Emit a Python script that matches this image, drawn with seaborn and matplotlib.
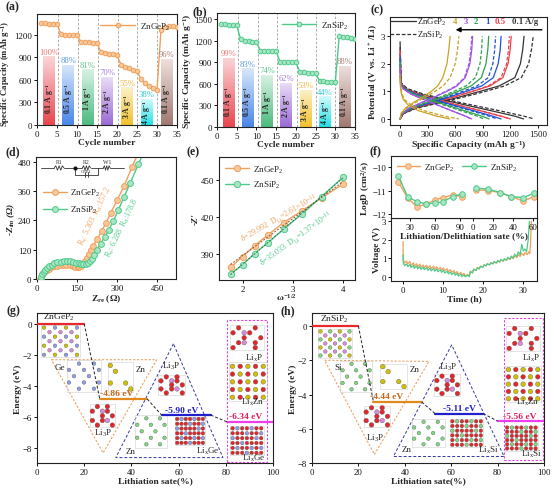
import numpy as np
import seaborn as sns
import matplotlib.pyplot as plt
from matplotlib.colors import LinearSegmentedColormap
from matplotlib.patches import Rectangle, Polygon

# ---------------- (a)/(b) rate capability ----------------
cycles = list(range(1, 36))
gep_rate_cap = [1352, 1350, 1348, 1347, 1346, 1205, 1200, 1198, 1196, 1194,
                1100, 1098, 1097, 1096, 1095, 965, 955, 948, 940, 925,
                803, 775, 755, 735, 715, 610, 560, 520, 490, 465,
                1262, 1302, 1310, 1309, 1306]
sip_rate_cap = [1440, 1432, 1425, 1420, 1416, 1222, 1205, 1196, 1190, 1185,
                1062, 1058, 1056, 1055, 1054, 909, 905, 903, 901, 900,
                770, 762, 757, 754, 752, 646, 638, 632, 627, 623,
                1268, 1262, 1255, 1245, 1233]
bar_x = [3.0, 7.8, 12.7, 17.6, 22.5, 27.4, 32.4]
bar_labels = ['0.1 A g$^{-1}$', '0.5 A g$^{-1}$', '1 A g$^{-1}$', '2 A g$^{-1}$',
              '3 A g$^{-1}$', '4 A g$^{-1}$', '0.1 A g$^{-1}$']
gep_bar = [913, 803, 740, 640, 503, 345, 877]
gep_pct = ['100%', '88%', '81%', '70%', '55%', '38%', '96%']
sip_bar = [969, 817, 725, 614, 521, 429, 855]
sip_pct = ['99%', '83%', '74%', '62%', '53%', '44%', '88%']
rate_dividers = [5.3, 10.3, 15.2, 20.2, 25.1, 30.0]

# ---------------- (c) charge / discharge ----------------
rate_names = ['0.1 A/g', '0.5', '1', '2', '3', '4']
chg_v = [0.0, 0.2, 0.4, 0.6, 0.8, 1.0, 1.2, 1.5, 2.0, 2.5, 3.0]
gep_chg = [[0, 40, 170, 420, 650, 870, 1080, 1250, 1310, 1335, 1350],
           [0, 35, 150, 380, 590, 790, 980, 1120, 1175, 1198, 1210],
           [0, 30, 140, 350, 540, 720, 890, 1015, 1068, 1090, 1100],
           [0, 25, 120, 300, 470, 630, 775, 885, 935, 955, 965],
           [0, 20, 100, 240, 380, 510, 620, 710, 760, 780, 790],
           [0, 10, 60, 150, 250, 340, 410, 465, 510, 530, 545]]
sip_chg = [[0, 40, 190, 450, 700, 930, 1140, 1320, 1400, 1430, 1450],
           [0, 35, 150, 370, 580, 780, 960, 1100, 1160, 1180, 1190],
           [0, 30, 130, 330, 510, 680, 840, 960, 1010, 1030, 1040],
           [0, 25, 110, 280, 440, 585, 720, 820, 870, 888, 895],
           [0, 20, 100, 240, 370, 495, 610, 700, 750, 770, 780],
           [0, 15, 70, 170, 280, 380, 470, 545, 600, 625, 640]]
dis_v = [1.3, 1.1, 0.9, 0.7, 0.5, 0.3, 0.1, 0.0]
gep_dis_v0 = [2.8, 2.5, 2.3, 2.1, 1.9, 1.6]
gep_dis = [[10, 60, 220, 460, 720, 990, 1250, 1345],
           [8, 50, 190, 400, 630, 870, 1100, 1200],
           [6, 45, 170, 370, 580, 800, 1010, 1100],
           [5, 40, 150, 320, 510, 700, 890, 970],
           [4, 30, 120, 260, 410, 560, 715, 780],
           [2, 6, 15, 35, 90, 200, 400, 540]]
sip_dis_v0 = [2.6, 2.4, 2.2, 2.0, 1.8, 1.5]
sip_dis = [[15, 80, 260, 510, 790, 1080, 1350, 1460],
           [10, 55, 200, 410, 640, 880, 1100, 1200],
           [8, 45, 170, 360, 560, 770, 970, 1060],
           [6, 40, 140, 300, 480, 660, 840, 910],
           [5, 30, 120, 260, 410, 560, 710, 770],
           [2, 8, 20, 50, 120, 260, 480, 640]]

# ---------------- (d) Nyquist ----------------
gep_zre = [10, 13, 17, 22, 28, 35, 43, 52, 62, 73, 85, 97, 109, 121, 132, 142, 151, 158,
           164, 170, 177, 185, 193, 201, 209, 224, 241, 257, 275, 300, 325, 354]
gep_zim = [0, 8, 16, 24, 31, 37, 43, 48, 52, 55, 57, 58, 57, 56, 53, 50, 48, 49,
           53, 62, 74, 88, 102, 118, 135, 162, 196, 229, 270, 325, 380, 457]
gep_line_end = (372, 500)
sip_zre = [12, 15, 19, 24, 30, 37, 45, 54, 64, 75, 87, 99, 111, 123, 135, 146, 156, 165,
           173, 181, 189, 197, 205, 213, 222, 237, 252, 268, 285, 303, 325, 349, 379]
sip_zim = [0, 10, 20, 29, 38, 46, 53, 59, 64, 68, 71, 73, 73, 72, 70, 67, 64, 62,
           61, 62, 66, 73, 83, 100, 119, 144, 171, 202, 237, 281, 336, 395, 470]
sip_line_end = (391, 500)

# ---------------- (e) Z' vs w^-1/2 ----------------
omega = [1.75, 1.99, 2.23, 2.5, 2.81, 3.17, 3.57, 4.0]
gep_zp = [379.2, 388.0, 396.8, 405.7, 415.6, 425.0, 435.7, 447.0]
sip_zp = [373.8, 381.4, 390.5, 399.4, 410.2, 422.4, 436.6, 452.7]

# ---------------- (f) GITT ----------------
lith_x = [16, 27, 38, 49, 60, 70, 81, 92]
gep_lith_logd = [-10.64, -11.30, -11.69, -11.59, -11.40, -11.30, -11.19, -11.26]
sip_lith_logd = [-10.37, -11.26, -11.47, -11.57, -11.54, -11.47, -11.26, -11.14]
delith_x = [3, 15, 27, 38, 50, 61]
gep_delith_logd = [-10.97, -11.00, -11.09, -11.26, -11.44, -11.26]
sip_delith_logd = [-10.90, -10.94, -11.09, -11.26, -11.30, -11.11]
gep_t = [0.0, 0.05, 0.4, 0.9, 1.2, 1.7, 2.0, 2.6, 2.8, 3.4, 3.7, 4.2, 4.5, 5.0, 5.3, 5.9,
         6.2, 6.7, 7.0, 7.6, 7.9, 8.4, 8.7, 9.3, 9.6, 10.1, 10.4, 11.0, 11.3, 11.8, 12.1,
         12.7, 13.0, 13.5, 13.8, 14.4, 14.7, 15.2, 15.5, 16.1, 16.5, 16.8, 17.3, 17.6,
         18.2, 18.5, 19.0, 19.3, 19.9, 20.2, 20.7, 21.0, 21.6, 21.9, 22.4, 22.7, 23.3,
         23.6, 24.1, 24.4, 25.0, 25.3, 25.8, 26.1, 26.7, 27.0, 27.5, 27.8, 28.4, 28.7,
         29.2, 29.5, 30.1, 30.4, 31.0, 31.3, 31.6, 31.8, 32.0]
gep_volt = [1.9, 0.95, 0.75, 0.85, 0.7, 0.82, 0.62, 0.75, 0.58, 0.7, 0.55, 0.68, 0.52, 0.64,
            0.5, 0.62, 0.47, 0.6, 0.44, 0.57, 0.42, 0.54, 0.4, 0.5, 0.36, 0.47, 0.33, 0.43,
            0.28, 0.38, 0.24, 0.33, 0.19, 0.28, 0.14, 0.23, 0.1, 0.18, 0.05, 0.12, 0.03,
            0.3, 0.22, 0.42, 0.35, 0.5, 0.44, 0.58, 0.52, 0.65, 0.6, 0.7, 0.65, 0.75, 0.7,
            0.8, 0.74, 0.85, 0.79, 0.9, 0.84, 0.95, 0.89, 1.0, 0.94, 1.05, 0.98, 1.12, 1.04,
            1.2, 1.1, 1.28, 1.15, 1.3, 1.2, 1.35, 1.25, 1.9, 3.0]
sip_t = [0.0, 0.05, 0.4, 0.9, 1.2, 1.7, 2.0, 2.6, 2.8, 3.4, 3.7, 4.2, 4.5, 5.0, 5.3, 5.9,
         6.2, 6.7, 7.0, 7.6, 7.9, 8.4, 8.7, 9.3, 9.6, 10.1, 10.4, 11.0, 11.3, 11.8, 12.1,
         12.7, 13.0, 13.5, 13.8, 14.4, 14.7, 15.2, 15.5, 16.1, 16.5, 16.8, 17.3, 17.6,
         18.2, 18.5, 19.0, 19.3, 19.9, 20.2, 20.7, 21.0, 21.6, 21.9, 22.4, 22.7, 23.3,
         23.6, 24.1, 24.4, 25.0, 25.3, 25.8, 26.1, 26.7, 27.0, 27.5, 27.8, 28.4, 28.7,
         29.2, 29.6, 30.0, 30.4, 30.8, 31.2, 31.5]
sip_volt = [1.2, 0.75, 0.6, 0.7, 0.55, 0.66, 0.5, 0.62, 0.46, 0.58, 0.43, 0.55, 0.4, 0.52,
            0.38, 0.5, 0.35, 0.47, 0.32, 0.44, 0.3, 0.42, 0.27, 0.38, 0.24, 0.35, 0.2, 0.3,
            0.16, 0.26, 0.12, 0.22, 0.08, 0.18, 0.04, 0.14, 0.0, 0.1, 0.0, 0.08, 0.0,
            0.28, 0.2, 0.4, 0.33, 0.48, 0.42, 0.56, 0.5, 0.64, 0.58, 0.7, 0.64, 0.76, 0.7,
            0.82, 0.75, 0.88, 0.8, 0.93, 0.86, 0.98, 0.9, 1.05, 0.96, 1.12, 1.02, 1.22, 1.1,
            1.35, 1.2, 1.75, 1.4, 1.5, 1.35, 2.0, 3.0]

# ---------------- (g)/(h) energy diagrams ----------------
g_energy = [0, -4.86, -5.90, -6.34]
g_span = [(0, 20), (26.6, 46.7), (52.8, 73.6), (80.5, 100)]
h_energy = [0, -4.44, -5.11, -5.56]
h_span = [(0, 20), (26.5, 47.3), (53, 73.8), (80, 100)]
g_orange_tri = [(6.1, -2.32), (50.7, -2.32), (28.0, -8.35)]
g_blue_tri = [(57.8, -1.29), (33.4, -8.65), (78.8, -8.65)]
g_box = [(80.5, 0.26), (97.5, -8.92)]
h_orange_tri = [(5.4, -2.0), (50.4, -2.07), (26.9, -7.5)]
h_blue_tri = [(60.2, -1.1), (35.1, -7.62), (82.8, -7.62)]
h_box = [(82.8, 0.45), (99.7, -7.85)]
g_title = ('ZnGeP$_2$', 9.5, 0.1)
h_title = ('ZnSiP$_2$', 9.5, 0.1)
g_labels = [('Ge', 9.8, -2.8), ('Zn', 43.8, -2.9), ('Li$_3$P', 28, -7.0),
            ('Li$_3$P', 57, -2.7), ('Zn', 39.5, -8.2), ('Li$_x$Ge', 72.5, -8.2),
            ('Li$_x$P', 91.8, -2.15), ('Li$_x$Zn', 91.4, -4.99), ('Li$_x$Ge', 91.8, -8.65)]
h_labels = [('Si', 11.2, -2.42), ('Zn', 44.4, -2.5), ('Li$_3$P', 27.2, -6.5),
            ('Li$_3$P', 58.7, -2.33), ('Zn', 40.8, -7.17), ('Li$_x$Si', 75.9, -7.2),
            ('Li$_x$P', 94.5, -1.84), ('Li$_x$Zn', 92.8, -4.4), ('Li$_x$Si', 94.5, -7.46)]
g_energy_text_x = [None, 33.7, 61.3, 88.2]
h_energy_text_x = [None, 32.2, 63.6, 89.5]
g_structs = [('ZnGeP2', 1.8, 18.1, -2.15, -0.1), ('Ge', 12.5, 27.3, -4.4, -2.37),
             ('Zn', 30, 40.8, -4.4, -2.5), ('Li3P', 22.4, 33, -6.7, -5.2),
             ('Li3P', 51.4, 62.7, -4.6, -3.3), ('Si', 41.5, 55, -8.0, -5.9),
             ('LixGe', 58.5, 71.2, -7.85, -6.0), ('LixP', 81.9, 96, -1.7, -0.1),
             ('LixZn', 81.2, 97.5, -5.0, -2.5), ('LixGe', 81.9, 96, -8.5, -6.6)]
h_structs = [('ZnSiP2', 2.6, 17.2, -1.84, -0.2), ('Si', 12.2, 25.8, -3.88, -2.03),
             ('Zn', 29.4, 40.8, -3.68, -2.23), ('Li3P', 22.2, 33.7, -5.9, -4.65),
             ('Li3P', 52.7, 63.8, -4.07, -2.8), ('Si', 43, 57.3, -7.07, -5.43),
             ('LixSi', 59.5, 73.8, -7.07, -5.43), ('LixP', 83.8, 98.1, -1.45, 0.0),
             ('LixZn', 83.1, 98.9, -4.46, -2.33), ('LixSi', 83.1, 97.4, -7.27, -5.81)]
motifs = {
    'ZnGeP2': ["Y.B.Y.B", ".P.P.P.", "B.Y.B.Y", ".P.P.P.", "Y.B.Y.B", ".P.P.P.", "B.Y.B.Y"],
    'ZnSiP2': ["Y.G.Y.G", ".P.P.P.", "G.Y.G.Y", ".P.P.P.", "Y.G.Y.G", ".P.P.P.", "G.Y.G.Y"],
    'Ge': ["..B..B.", "B..B..B", ".B..B..", "B..B..B", "..B..B."],
    'Si': ["..G..G.", "G..G..G", ".G..G..", "G..G..G", "..G..G."],
    'Zn': ["Y....", ".Y...", ".....", "Y..Y.", "....Y"],
    'Li3P': [".R.R.", "R.PR.", "..R.R", "R.RP.", ".R..R"],
    'LixGe': ["RBRRBRR", "RRRBRRB", "BRRRRBR", "RRBRRRR", "RBRRBRB", "RRRBRRR"],
    'LixSi': ["RGRRGRR", "RRRGRRG", "GRRRRGR", "RRGRRRR", "RGRRGRG", "RRRGRRR"],
    'LixP': [".R..R.", "R.PR..", "..R..R", ".RP.R.", "R...R."],
    'LixZn': ["YRYRY", "RYRYR", "YRYRY", "RYRYR", "YRYRY"],
}
atom_colors = {'Y': '#D2C000', 'B': '#8E9CEB', 'P': '#D98AD9', 'R': '#E3262A', 'G': '#7FD67F'}

# ---------------- colours / sizes ----------------
orange, orange_fill = '#F0A05A', '#F7C89C'
green, green_fill = '#4FC98A', '#A8E6C4'
bar_dark = ['#E8474F', '#4A86E8', '#4DBB7F', '#9B6BD6', '#F2C12E', '#22E0E8', '#A07A72']
bar_light = ['#FBD6D8', '#D8E7FB', '#D7F2E3', '#EADFF7', '#FCF1CA', '#D2FAFB', '#EEDFDC']
pct_colors = ['#E87A7A', '#5B9BE6', '#5CC48E', '#A77FD9', '#EDB93A', '#2CCBD6', '#A97F78']
rate_colors = ['#333333', '#E8424A', '#2050D8', '#2DA04E', '#A055E0', '#C9A227']
TICK, LAB, LEG = 6.3, 6.8, 6.6

sns.set_theme(style='ticks')
plt.rcParams['font.family'] = ['Liberation Serif', 'DejaVu Serif']
plt.rcParams['mathtext.default'] = 'regular'
plt.rcParams['axes.linewidth'] = 0.8

W, H = 554, 489
fig = plt.figure(figsize=(W / 100, H / 100), dpi=100)


def px_axes(left, top, right, bottom):
    return fig.add_axes([left / W, 1 - bottom / H, (right - left) / W, (bottom - top) / H])


def style_ax(ax):
    ax.tick_params(direction='out', length=2.2, width=0.7, labelsize=TICK, pad=1.2, colors='#111111')
    for s in ax.spines.values():
        s.set_linewidth(0.8)
        s.set_color('#222222')


def labels(ax, xl, yl):
    ax.set_xlabel(xl, fontsize=LAB, fontweight='bold', labelpad=0.5)
    ax.set_ylabel(yl, fontsize=LAB, fontweight='bold', labelpad=0.5)


def rate_panel(ax, cap, bars_h, pcts, color, fill, name, ylim, yticks):
    bars = ax.bar(bar_x, bars_h, width=3.0, color='none', edgecolor='none', zorder=1)
    grad = np.linspace(0, 1, 64).reshape(-1, 1)
    for bar, d, l in zip(bars, bar_dark, bar_light):
        x0, w, h = bar.get_x(), bar.get_width(), bar.get_height()
        cmap = LinearSegmentedColormap.from_list('g', [d, l])
        im = ax.imshow(grad, extent=[x0, x0 + w, 0, h], origin='lower', cmap=cmap,
                       aspect='auto', zorder=1)
        im.set_clip_path(bar)
    for x in rate_dividers:
        ax.axvline(x, color='#A0A0A0', ls=(0, (3, 2)), lw=0.6, zorder=0)
    for x, h, p, c in zip(bar_x, bars_h, pcts, pct_colors):
        ax.text(x, h + 8, p, color=c, ha='center', va='bottom', fontsize=6.2, zorder=4)
    for x, h, t in zip(bar_x, bars_h, bar_labels):
        ax.text(x, min(h * 0.5, 360), t, rotation=90, ha='center', va='center',
                fontsize=5.6, fontweight='bold', zorder=4)
    sns.lineplot(x=cycles, y=cap, ax=ax, color=color, lw=1.0, marker='o', markersize=3.3,
                 markerfacecolor=fill, markeredgecolor=color, markeredgewidth=0.7,
                 label=name, sort=False, estimator=None, zorder=3)
    ax.legend(loc='upper right', frameon=False, handlelength=3.8, fontsize=LEG,
              borderaxespad=0.3, handletextpad=0.5)
    ax.set_xlim(0, 35)
    ax.set_ylim(*ylim)
    ax.set_xticks(range(0, 36, 5))
    ax.set_yticks(yticks)
    style_ax(ax)
    labels(ax, 'Cycle number', 'Specific Capacity (mAh g$^{-1}$)')


# (a)
ax_a = px_axes(37, 15, 177, 126)
rate_panel(ax_a, gep_rate_cap, gep_bar, gep_pct, orange, orange_fill, 'ZnGeP$_2$',
           (0, 1475), [0, 300, 600, 900, 1200])
ax_a.yaxis.set_label_coords(-0.175, 0.47)
ax_a.yaxis.label.set_fontsize(6.3)
# (b)
ax_b = px_axes(217, 14, 355, 128)
rate_panel(ax_b, sip_rate_cap, sip_bar, sip_pct, green, green_fill, 'ZnSiP$_2$',
           (0, 1590), [0, 300, 600, 900, 1200, 1500])

# (c)
ax_c = px_axes(390, 18, 547, 126)
for i in range(6):
    c = rate_colors[i]
    sns.lineplot(x=[0] + gep_dis[i], y=[gep_dis_v0[i]] + dis_v, ax=ax_c, color=c, lw=0.9,
                 sort=False, estimator=None)
    sns.lineplot(x=gep_chg[i], y=chg_v, ax=ax_c, color=c, lw=0.9, sort=False, estimator=None)
    sns.lineplot(x=[0] + sip_dis[i], y=[sip_dis_v0[i]] + dis_v, ax=ax_c, color=c, lw=0.9,
                 ls=(0, (3, 1.5)), sort=False, estimator=None)
    sns.lineplot(x=sip_chg[i], y=chg_v, ax=ax_c, color=c, lw=0.9, ls=(0, (3, 1.5)),
                 sort=False, estimator=None)
ax_c.set_xlim(-110, 1600)
ax_c.set_ylim(-0.22, 3.7)
ax_c.set_xticks([0, 300, 600, 900, 1200, 1500])
ax_c.set_yticks([0, 1, 2, 3])
ax_c.plot([0.0, 0.165], [0.96, 0.96], transform=ax_c.transAxes, color='#333333', lw=0.9)
ax_c.plot([0.0, 0.165], [0.843, 0.843], transform=ax_c.transAxes, color='#333333', lw=0.9,
          ls=(0, (3, 1.5)))
ax_c.text(0.17, 0.96, 'ZnGeP$_2$', transform=ax_c.transAxes, fontsize=6.3, va='center')
ax_c.text(0.17, 0.843, 'ZnSiP$_2$', transform=ax_c.transAxes, fontsize=6.3, va='center')
for xf, name, c in zip([0.86, 0.705, 0.62, 0.55, 0.485, 0.415], rate_names, rate_colors):
    ax_c.text(xf, 0.96, name, transform=ax_c.transAxes, color=c, fontsize=6.3,
              fontweight='bold', ha='center', va='center')
ax_c.annotate('', xy=(0.40, 0.882), xytext=(0.985, 0.882), xycoords='axes fraction',
              arrowprops=dict(arrowstyle='-|>', color='black', lw=1.0, mutation_scale=7))
style_ax(ax_c)
labels(ax_c, 'Specific Capacity (mAh g$^{-1}$)', 'Potential (V vs. Li$^+$/Li)')

# (d)
ax_d = px_axes(36, 158, 176, 280)
for zre, zim, end, c, f, name in [(gep_zre, gep_zim, gep_line_end, orange, orange_fill, 'ZnGeP$_2$'),
                                   (sip_zre, sip_zim, sip_line_end, green, green_fill, 'ZnSiP$_2$')]:
    ax_d.plot([zre[-1], end[0]], [zim[-1], end[1]], color=c, lw=1.0, zorder=2)
    sns.lineplot(x=zre, y=zim, ax=ax_d, color=c, lw=1.0, marker='o', markersize=4.2,
                 markerfacecolor=f, markeredgecolor=c, markeredgewidth=0.7, label=name,
                 sort=False, estimator=None, zorder=3)
ax_d.legend(loc='upper left', bbox_to_anchor=(-0.01, 0.82), frameon=False, fontsize=LEG,
            handlelength=2.6, handletextpad=0.4, labelspacing=0.6)
ax_d.text(218, 262, 'R$_s$: 5.303  R$_{ct}$:157.2', color=orange, fontsize=5.8, rotation=64,
          ha='center', va='center', rotation_mode='anchor')
ax_d.text(318, 212, 'R$_s$: 6.288  R$_{ct}$:178.8', color=green, fontsize=5.8, rotation=64,
          ha='center', va='center', rotation_mode='anchor')
# equivalent circuit sketch
tr = ax_d.transAxes
yc = 0.91


def zigzag(x0, x1, y, amp=0.018, n=6):
    xs = np.linspace(x0, x1, n + 1)
    ys = [y + (amp if k % 2 else -amp) if 0 < k < n else y for k in range(n + 1)]
    return xs, ys


for x0, x1 in [(0.035, 0.13), (0.2, 0.33), (0.39, 0.48), (0.53, 0.63)]:
    ax_d.plot([x0, x1], [yc, yc], transform=tr, color='#333333', lw=0.6)
for x0, x1 in [(0.13, 0.2), (0.33, 0.39), (0.48, 0.53)]:
    zx, zy = zigzag(x0, x1, yc)
    ax_d.plot(zx, zy, transform=tr, color='#333333', lw=0.6)
ax_d.plot([0.28, 0.28, 0.44, 0.44], [yc, 0.855, 0.855, yc], transform=tr, color='#333333', lw=0.6)
ax_d.plot([0.35, 0.35], [0.835, 0.875], transform=tr, color='#333333', lw=0.6)
ax_d.plot([0.37, 0.37], [0.835, 0.875], transform=tr, color='#333333', lw=0.6)
ax_d.plot([0.28], [yc], 'o', transform=tr, color='#111111', ms=2)
for txt, xf, yf, fs in [('R1', 0.165, 0.965, 4.2), ('R2', 0.36, 0.965, 4.2),
                        ('W1', 0.505, 0.965, 4.2), ('CPE1', 0.36, 0.885, 3.3)]:
    ax_d.text(xf, yf, txt, transform=tr, fontsize=fs, ha='center', va='center', color='#333333')
ax_d.set_xlim(-5, 520)
ax_d.set_ylim(0, 500)
ax_d.set_xticks([0, 150, 300, 450])
ax_d.set_yticks([0, 120, 240, 360, 480])
style_ax(ax_d)
labels(ax_d, 'Z$_{re}$ (Ω)', '-Z$_{im}$ (Ω)')
ax_d.yaxis.label.set_style('italic')

# (e)
ax_e = px_axes(219, 158, 355, 281)
for zp, c, f, name, dark in [(gep_zp, orange, orange_fill, 'ZnGeP$_2$', '#8A5A30'),
                             (sip_zp, green, green_fill, 'ZnSiP$_2$', '#2A7A50')]:
    sns.lineplot(x=omega, y=zp, ax=ax_e, color=c, lw=1.0, marker='o', markersize=4.5,
                 markerfacecolor=f, markeredgecolor=c, markeredgewidth=0.7, label=name,
                 sort=False, estimator=None, zorder=3)
    k, b = np.polyfit(omega, zp, 1)
    xx = np.array([omega[0], omega[-1]])
    ax_e.plot(xx, k * xx + b, color=dark, lw=0.7, ls=(0, (2, 1.5)), zorder=4)
ax_e.legend(loc='upper left', frameon=False, fontsize=LEG, handlelength=2.6,
            handletextpad=0.4, borderaxespad=0.3)
ax_e.text(2.73, 419.6, 'δ=29.992  D$_{Li}$=2.61×10$^{-11}$', color=orange, fontsize=5.8,
          rotation=30, ha='center', va='center', rotation_mode='anchor')
ax_e.text(3.07, 402.9, 'δ=35.033  D$_{Li}$=1.37×10$^{-11}$', color=green, fontsize=5.8,
          rotation=36, ha='center', va='center', rotation_mode='anchor')
ax_e.set_xlim(1.52, 4.24)
ax_e.set_ylim(369, 469)
ax_e.set_xticks([2, 3, 4])
ax_e.set_yticks([390, 420, 450])
style_ax(ax_e)
labels(ax_e, 'ω$^{-1/2}$', "-Z'")
ax_e.xaxis.labelpad = -1
ax_e.yaxis.label.set_style('italic')

# (f) top: log D, lithiation and delithiation on one broken scale
deli_offset, deli_scale = 106, 1.2
ax_ft = px_axes(391, 157, 537, 219)
ax_fb = px_axes(391, 219, 537, 282)
ax_ft.set_zorder(3)
deli_pos = [deli_offset + deli_scale * d for d in delith_x]
for lx, dy, c, f, name in [(gep_lith_logd, gep_delith_logd, orange, orange_fill, 'ZnGeP$_2$'),
                           (sip_lith_logd, sip_delith_logd, green, green_fill, 'ZnSiP$_2$')]:
    sns.lineplot(x=lith_x, y=lx, ax=ax_ft, color=c, lw=1.0, marker='o', markersize=4,
                 markerfacecolor=f, markeredgecolor=c, markeredgewidth=0.7, label=name,
                 sort=False, estimator=None)
    sns.lineplot(x=deli_pos, y=dy, ax=ax_ft, color=c, lw=1.0, marker='o', markersize=4,
                 markerfacecolor=f, markeredgecolor=c, markeredgewidth=0.7,
                 sort=False, estimator=None)
ax_ft.legend(loc='upper left', ncol=2, frameon=False, fontsize=LEG, handlelength=2.6,
             handletextpad=0.4, columnspacing=0.8, borderaxespad=0.2)
ax_ft.set_xlim(7.2, 182.4)
ax_ft.set_ylim(-12.17, -9.53)
ax_ft.set_yticks([-12, -11, -10])
ax_ft.set_xticks([30, 60, 90] + [deli_offset + deli_scale * d for d in [0, 20, 40, 60]])
ax_ft.set_xticklabels(['30', '60', '90', '0', '20', '40', '60'])
style_ax(ax_ft)
labels(ax_ft, 'Lithiation/Delithiation sate (%)', 'LogD (cm$^2$/s)')
ax_ft.xaxis.labelpad = 0

sns.lineplot(x=gep_t, y=gep_volt, ax=ax_fb, color=orange, lw=0.9, sort=False, estimator=None)
sns.lineplot(x=sip_t, y=sip_volt, ax=ax_fb, color=green, lw=0.9, sort=False, estimator=None)
ax_fb.set_xlim(-3, 33.4)
ax_fb.set_ylim(-0.23, 3.18)
ax_fb.set_xticks([0, 10, 20, 30])
ax_fb.set_yticks([0, 1, 2, 3])
style_ax(ax_fb)
labels(ax_fb, 'Time (h)', 'Voltage (V)')


# (g)/(h)
def draw_structure(ax, motif, x0, x1, y0, y1):
    rows = motifs[motif]
    nr, nc = len(rows), len(rows[0])
    ax.add_patch(Rectangle((x0, y0), x1 - x0, y1 - y0, fill=False, ec='#CFCFCF', lw=0.4, zorder=2))
    xs, ys, cs = [], [], []
    for r, row in enumerate(rows):
        for cidx, ch in enumerate(row):
            if ch != '.':
                xs.append(x0 + (cidx + 0.5) / nc * (x1 - x0))
                ys.append(y1 - (r + 0.5) / nr * (y1 - y0))
                cs.append(atom_colors[ch])
    size = 11 if nr * nc <= 30 else 7
    ax.scatter(xs, ys, s=size, c=cs, edgecolors='#555555', linewidths=0.25, zorder=3)


def energy_panel(ax, energy, span, text_x, otri, btri, box, title, texts, structs, ylim):
    line_cols = ['#E8282B', '#E08A1E', '#1F1FD0', '#F03CF0']
    text_cols = [None, '#C8661A', '#1F1FD0', '#E0205A']
    ax.add_patch(Polygon(otri, closed=True, fill=False, ec='#EBA468', lw=0.8,
                         ls=(0, (2, 1.5)), zorder=1))
    ax.add_patch(Polygon(btri, closed=True, fill=False, ec='#3535A5', lw=0.7,
                         ls=(0, (3, 2)), zorder=1))
    (bx0, by0), (bx1, by1) = box
    ax.add_patch(Rectangle((bx0, by1), bx1 - bx0, by0 - by1, fill=False, ec='#E040E0', lw=0.8,
                           ls=(0, (2, 1.5)), zorder=1))
    for s in structs:
        draw_structure(ax, *s)
    for i, (e, (x0, x1)) in enumerate(zip(energy, span)):
        sns.lineplot(x=[x0, x1], y=[e, e], ax=ax, color=line_cols[i], lw=1.6, sort=False,
                     estimator=None, zorder=5)
        if i > 0:
            px1 = span[i - 1][1]
            ax.plot([px1, x0], [energy[i - 1], e], color='#222222', lw=0.7, ls=(0, (3, 2)), zorder=5)
            ax.text(text_x[i], e + 0.1, f'{e:.2f} eV', color=text_cols[i], fontsize=6.8,
                    fontweight='bold', ha='center', va='bottom', zorder=6)
    ax.text(title[1], title[2], title[0], fontsize=6.8, ha='center', va='bottom', zorder=6)
    for t, x, y in texts:
        ax.text(x, y, t, fontsize=6.5, ha='center', va='center', zorder=6)
    ax.set_xlim(0, 100)
    ax.set_ylim(*ylim)
    ax.set_xticks(range(0, 101, 20))
    ax.set_yticks([0, -2, -4, -6, -8])
    style_ax(ax)
    labels(ax, 'Lithiation sate(%)', 'Energy (eV)')


ax_g = px_axes(37, 314, 273, 464)
energy_panel(ax_g, g_energy, g_span, g_energy_text_x, g_orange_tri, g_blue_tri, g_box,
             g_title, g_labels, g_structs, (-9.0, 0.7))
ax_h = px_axes(312, 314, 544, 464)
energy_panel(ax_h, h_energy, h_span, h_energy_text_x, h_orange_tri, h_blue_tri, h_box,
             h_title, h_labels, h_structs, (-8.0, 0.76))

for txt, x, y in [('(a)', 12, 7), ('(b)', 200, 12), ('(c)', 377, 10), ('(d)', 13, 152),
                  ('(e)', 193, 152), ('(f)', 375, 151), ('(g)', 13, 311), ('(h)', 288, 311)]:
    fig.text(x / W, 1 - y / H, txt, fontsize=8.5, fontweight='bold', ha='center', va='center')

fig.savefig('out.png', dpi=100)
